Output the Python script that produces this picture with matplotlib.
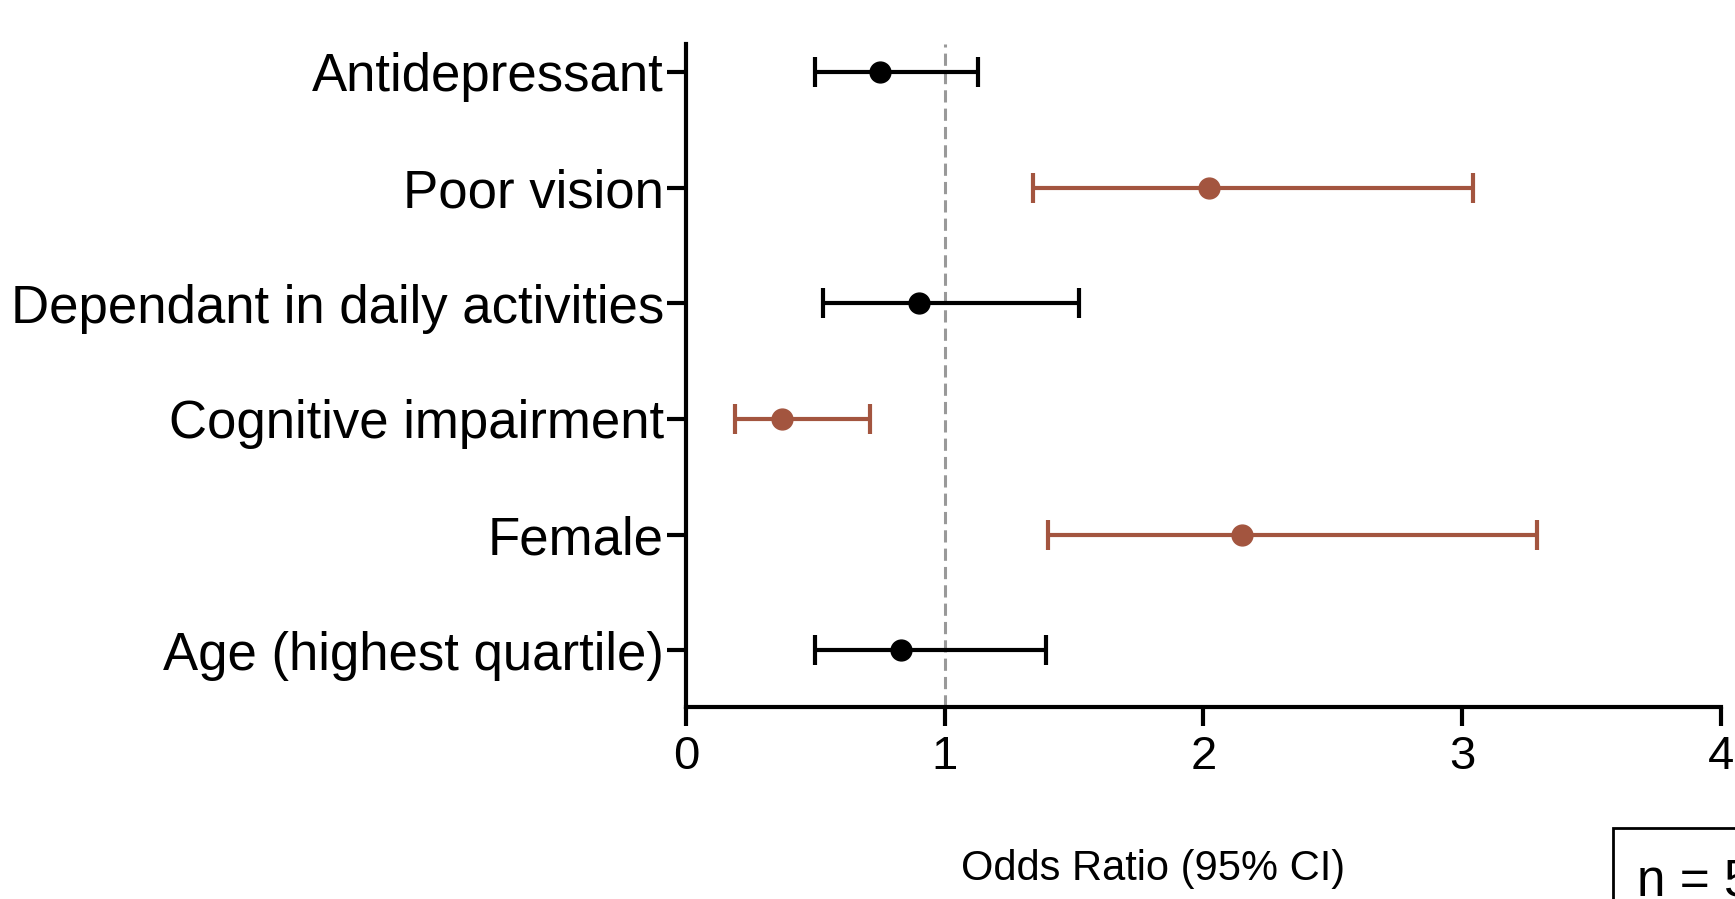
import matplotlib
matplotlib.use("Agg")
import matplotlib.pyplot as plt
from matplotlib.patches import Rectangle

plt.rcParams['font.family'] = ['Liberation Sans', 'DejaVu Sans']

# bottom to top
labels = ['Age (highest quartile)', 'Female', 'Cognitive impairment',
          'Dependant in daily activities', 'Poor vision', 'Antidepressant']
odds = [0.83, 2.15, 0.37, 0.90, 2.02, 0.75]
lower = [0.50, 1.40, 0.19, 0.53, 1.34, 0.50]
upper = [1.39, 3.29, 0.71, 1.52, 3.04, 1.13]
significant = [False, True, True, False, True, False]

black = '#000000'
brown = '#a3553f'

fig = plt.figure(figsize=(17.35, 8.99), dpi=100)
ax = fig.add_axes([0.3954, 0.2136, 0.5965, 0.7374])

ax.axvline(1, color='#999999', linestyle=(0, (4, 2)), linewidth=2.2, zorder=1)

for i, (o, lo, hi, sig) in enumerate(zip(odds, lower, upper, significant)):
    c = brown if sig else black
    ax.errorbar(o, i, xerr=[[o - lo], [hi - o]], fmt='o', color=c,
                ecolor=c, elinewidth=3, capsize=11, capthick=3,
                markersize=15, zorder=3)

ax.set_xlim(0, 4)
ax.set_ylim(-0.49, 5.24)
ax.set_xticks([0, 1, 2, 3, 4])
ax.set_yticks(range(len(labels)))
ax.set_yticklabels(labels, fontsize=38)
ax.tick_params(axis='x', labelsize=34, length=14, width=3, pad=6)
ax.tick_params(axis='y', length=14, width=3, pad=2)

for side in ['top', 'right']:
    ax.spines[side].set_visible(False)
for side in ['left', 'bottom']:
    ax.spines[side].set_linewidth(3)

fig.text(1153 / 1735, 1 - 869 / 899, 'Odds Ratio (95% CI)', fontsize=30,
         ha='center', va='center')

fig.patches.append(Rectangle((1613 / 1735, -0.1), 0.2, 0.1 + (899 - 828) / 899,
                             transform=fig.transFigure, fill=False,
                             edgecolor='black', linewidth=2, clip_on=False))
fig.text(1637 / 1735, 1 - 895 / 899, 'n = 5', fontsize=37, ha='left',
         va='baseline')

fig.savefig('out.png', dpi=100, facecolor='white')
